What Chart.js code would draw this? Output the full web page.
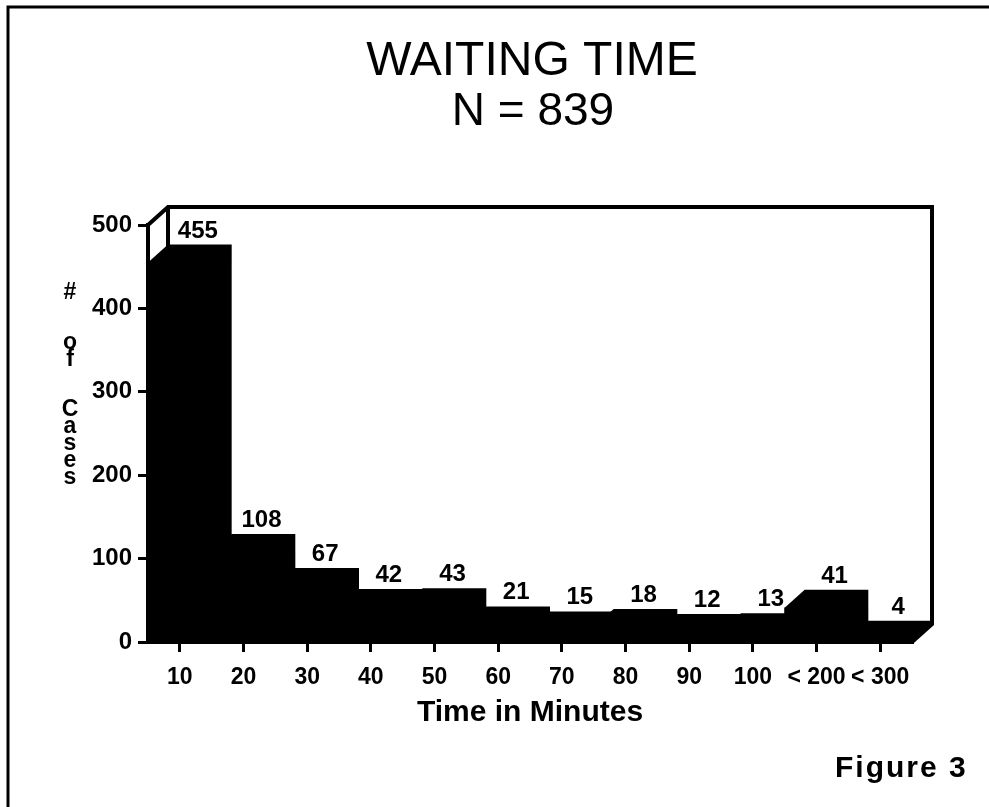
<!DOCTYPE html>
<html>
<head>
<meta charset="utf-8">
<script src="https://cdn.jsdelivr.net/npm/chart.js@4/dist/chart.umd.min.js"></script>
<style>
  html, body { margin: 0; padding: 0; background: #fff; }
  #wrap { width: 989px; height: 807px; position: relative; }
</style>
</head>
<body>
<div id="wrap"><canvas id="waitChart" width="989" height="807"></canvas></div>
<script>
// data
const categories = ['10', '20', '30', '40', '50', '60', '70', '80', '90', '100', '< 200', '< 300'];
const cases = [455, 108, 67, 42, 43, 21, 15, 18, 12, 13, 41, 4];
const yTicks = [0, 100, 200, 300, 400, 500];
const titleLines = ['WAITING TIME', 'N = 839'];
const yLabelWords = ['#', 'of', 'Cases'];

const DX = 20, DY = 18;   // depth of the 3d box
const bold = '"Liberation Sans Narrow", "Liberation Sans", sans-serif';

// box, bar depth, value labels, and the loose texts
const boxPlugin = {
  id: 'box3d',
  beforeDatasetsDraw(chart) {
    const ctx = chart.ctx, a = chart.chartArea;
    ctx.save();
    ctx.strokeStyle = '#000';
    ctx.lineWidth = 4;
    ctx.lineJoin = 'miter';
    ctx.beginPath();
    ctx.moveTo(a.left, a.top);
    ctx.lineTo(a.left + DX, a.top - DY);
    ctx.lineTo(a.right + DX, a.top - DY);
    ctx.lineTo(a.right + DX, a.bottom - DY);
    ctx.lineTo(a.right, a.bottom);
    ctx.moveTo(a.left + DX, a.top - DY);
    ctx.lineTo(a.left + DX, a.bottom - DY);
    ctx.stroke();

    // depth of each bar
    ctx.fillStyle = '#000';
    chart.getDatasetMeta(0).data.forEach(function (bar) {
      const l = bar.x - bar.width / 2, r = bar.x + bar.width / 2;
      ctx.beginPath();
      ctx.moveTo(l, bar.base);
      ctx.lineTo(l, bar.y);
      ctx.lineTo(l + DX, bar.y - DY);
      ctx.lineTo(r + DX, bar.y - DY);
      ctx.lineTo(r + DX, bar.base - DY);
      ctx.lineTo(r, bar.base);
      ctx.closePath();
      ctx.fill();
    });
    ctx.restore();
  },
  afterDatasetsDraw(chart) {
    const ctx = chart.ctx;
    ctx.save();
    ctx.fillStyle = '#000';
    ctx.font = 'bold 24px ' + bold;
    ctx.textAlign = 'center';
    ctx.textBaseline = 'alphabetic';
    chart.getDatasetMeta(0).data.forEach(function (bar, i) {
      ctx.fillText(String(cases[i]), bar.x + DX - 2, bar.y - DY - 7);
    });
    ctx.restore();
  },
  afterDraw(chart) {
    const ctx = chart.ctx;
    ctx.save();
    ctx.fillStyle = '#000';
    ctx.strokeStyle = '#000';

    // page frame (left and top only)
    ctx.lineWidth = 3;
    ctx.beginPath();
    ctx.moveTo(8, 807);
    ctx.lineTo(8, 7);
    ctx.lineTo(989, 7);
    ctx.stroke();

    // title
    ctx.textAlign = 'center';
    ctx.textBaseline = 'alphabetic';
    ctx.font = '48px "Liberation Sans", sans-serif';
    ctx.fillText(titleLines[0], 532, 75);
    ctx.font = '46px "Liberation Sans", sans-serif';
    ctx.fillText(titleLines[1], 533, 125);

    // stacked y label
    ctx.font = 'bold 23px ' + bold;
    ctx.textBaseline = 'middle';
    let y = 293;
    yLabelWords.forEach(function (w, k) {
      if (k > 0) y += 50;
      for (let c = 0; c < w.length; c++) {
        if (c > 0) y += 17;
        ctx.fillText(w[c], 70, y);
      }
    });

    // figure number
    ctx.textAlign = 'left';
    ctx.textBaseline = 'alphabetic';
    ctx.font = 'bold 30px "Liberation Sans", sans-serif';
    ctx.letterSpacing = '2px';
    ctx.fillText('Figure 3', 835, 777);
    ctx.restore();
  }
};

new Chart(document.getElementById('waitChart'), {
  type: 'bar',
  data: {
    labels: categories,
    datasets: [{
      data: cases,
      backgroundColor: '#000',
      borderWidth: 0,
      barPercentage: 1,
      categoryPercentage: 1
    }]
  },
  options: {
    responsive: false,
    animation: false,
    layout: { padding: { top: 225, right: 77, bottom: 0, left: 0 } },
    plugins: {
      legend: { display: false },
      tooltip: { enabled: false }
    },
    scales: {
      x: {
        offset: true,
        afterFit: function (s) { s.height = 165; },
        grid: { display: true, offset: false, drawOnChartArea: false, drawTicks: true, tickLength: 10, color: '#000', lineWidth: 3 },
        border: { display: true, color: '#000', width: 4 },
        ticks: { color: '#000', padding: 12, maxRotation: 0, autoSkip: false, font: { family: bold, size: 23, weight: 'bold' } },
        title: {
          display: true,
          text: 'Time in Minutes',
          color: '#000',
          font: { family: '"Liberation Sans", sans-serif', size: 30, weight: 'bold' },
          padding: { top: 0, bottom: 76 }
        }
      },
      y: {
        min: 0,
        max: 500,
        afterFit: function (s) { s.width = 148; },
        afterBuildTicks: function (s) { s.ticks = yTicks.map(function (v) { return { value: v }; }); },
        grid: { display: true, drawOnChartArea: false, drawTicks: true, tickLength: 10, color: '#000', lineWidth: 3 },
        border: { display: true, color: '#000', width: 4 },
        ticks: { color: '#000', padding: 6, font: { family: bold, size: 24, weight: 'bold' } }
      }
    }
  },
  plugins: [boxPlugin]
});
</script>
</body>
</html>
